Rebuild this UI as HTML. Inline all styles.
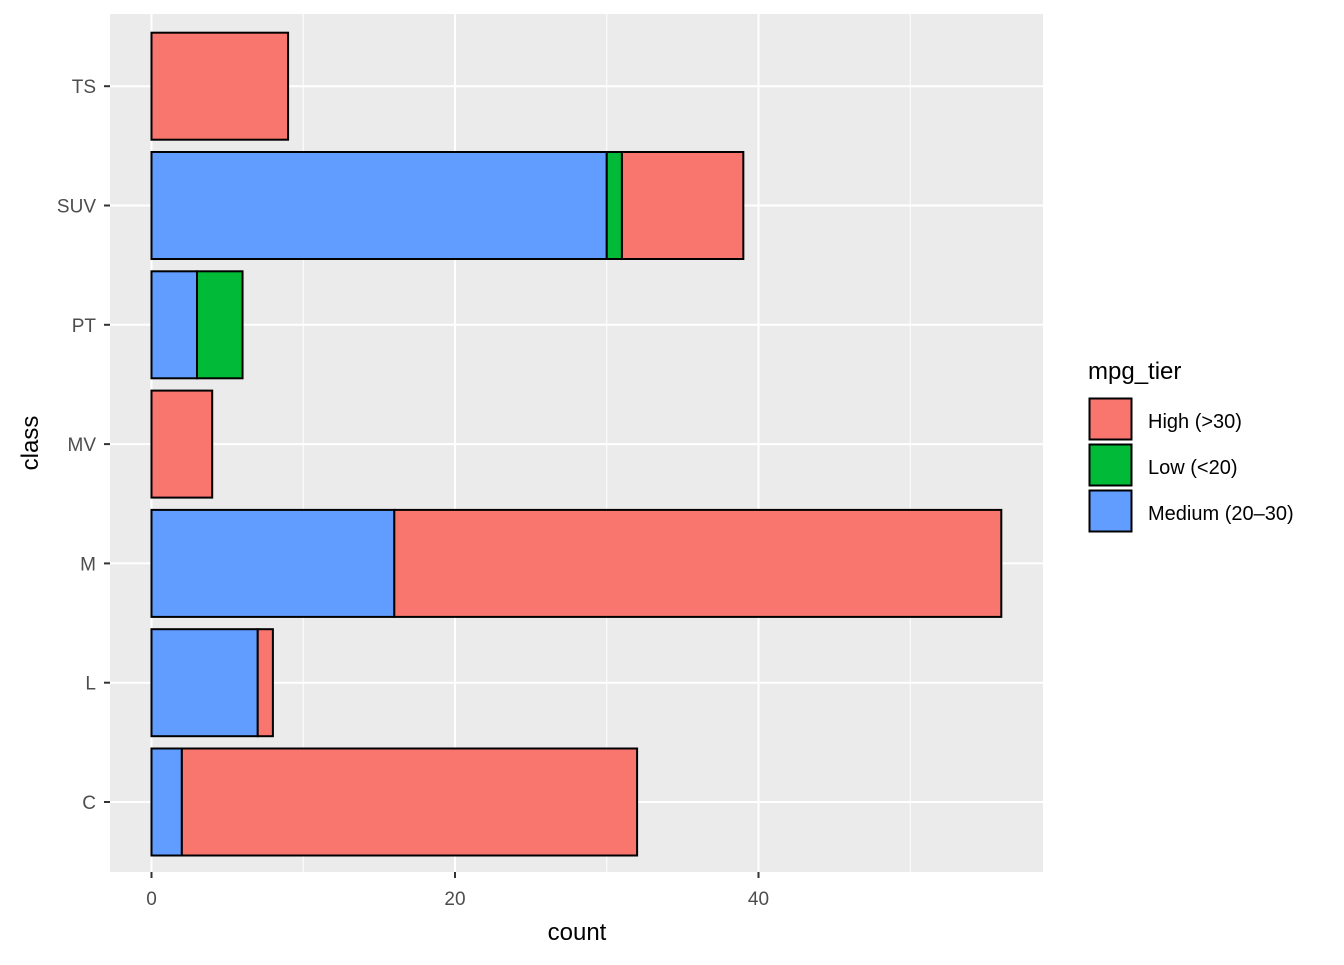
<!DOCTYPE html>
<html><head><meta charset="utf-8"><style>
body{margin:0;background:#fff}
svg text{font-family:"Liberation Sans",Arial,sans-serif}
</style></head><body>
<svg id="chart" width="1344" height="960" xmlns="http://www.w3.org/2000/svg">
<rect x="110" y="14" width="933" height="858" fill="#ebebeb"/>
<g id="grid"></g><g id="bars"></g><g id="axes"></g>
<text x="577" y="940" font-size="24" text-anchor="middle" fill="#000">count</text>
<text transform="translate(38,443) rotate(-90)" font-size="24" text-anchor="middle" fill="#000">class</text>
<g>
<text x="1088" y="379" font-size="24" fill="#000">mpg_tier</text>
<g><rect x="1089.5" y="398.5" width="42" height="41" fill="#F8766D" stroke="#000" stroke-width="2"/><text x="1148" y="428" font-size="20" fill="#000">High (&gt;30)</text></g>
<g><rect x="1089.5" y="444.5" width="42" height="41" fill="#00BA38" stroke="#000" stroke-width="2"/><text x="1148" y="474" font-size="20" fill="#000">Low (&lt;20)</text></g>
<g><rect x="1089.5" y="490.5" width="42" height="41" fill="#619CFF" stroke="#000" stroke-width="2"/><text x="1148" y="520" font-size="20" fill="#000">Medium (20–30)</text></g>
</g>
</svg>
<script>
const categories = ["C","L","M","MV","PT","SUV","TS"];
const medium = [2,7,16,0,3,30,0];
const low = [0,0,0,0,3,1,0];
const high = [30,1,40,4,0,8,9];
const xTicks = [0,20,40];
const xMinor = [10,30,50];
const NS="http://www.w3.org/2000/svg";
const x = v => 151.5 + v*15.175;
const y = i => 802 - i*119.3;
const bw = 107;
function mk(tag, attrs, parent){const e=document.createElementNS(NS,tag);for(const k in attrs)e.setAttribute(k,attrs[k]);parent.appendChild(e);return e;}
const grid=document.getElementById('grid'), bars=document.getElementById('bars'), axes=document.getElementById('axes');
xMinor.forEach(v=>{const l=mk('line',{x1:x(v),x2:x(v),y1:14,y2:872,stroke:'#fff','stroke-width':1},grid);

});
xTicks.forEach(v=>{const l=mk('line',{x1:x(v),x2:x(v),y1:14,y2:872,stroke:'#fff','stroke-width':2},grid);


const t=mk('line',{x1:x(v),x2:x(v),y1:872,y2:878,stroke:'#333','stroke-width':2},axes);


const tx=mk('text',{x:x(v),y:905,'font-size':19,'text-anchor':'middle',fill:'#4d4d4d'},axes);tx.textContent=v;

});
categories.forEach((c,i)=>{const cy=y(i);
const l=mk('line',{x1:110,x2:1043,y1:cy,y2:cy,stroke:'#fff','stroke-width':2},grid);


const t=mk('line',{x1:104,x2:110,y1:cy,y2:cy,stroke:'#333','stroke-width':2},axes);


const tx=mk('text',{x:96,y:cy+7,'font-size':19,'text-anchor':'end',fill:'#4d4d4d'},axes);tx.textContent=c;


let s=0;
[[medium[i],'#619CFF','medium'],[low[i],'#00BA38','low'],[high[i],'#F8766D','high']].forEach(([v,col,nm])=>{
if(v<=0)return;
const r=mk('rect',{x:x(s),y:cy-bw/2,width:x(s+v)-x(s),height:bw,fill:col,stroke:'#000','stroke-width':2},bars);


s+=v;});
});
</script>
</body></html>
